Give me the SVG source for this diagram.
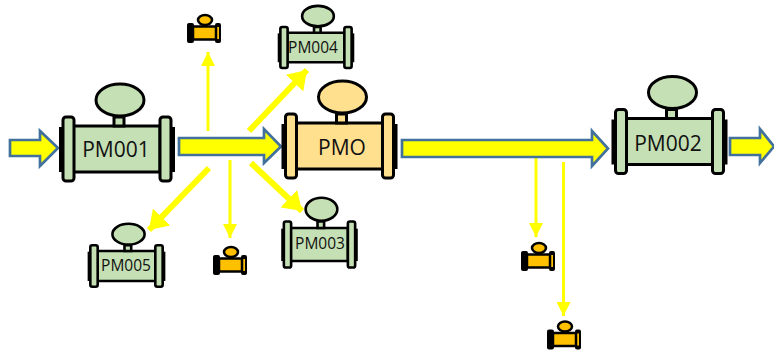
<svg xmlns="http://www.w3.org/2000/svg" xmlns:xlink="http://www.w3.org/1999/xlink" width="774" height="353" viewBox="0 0 774 353">
<style>
text{font-family:"Open Sans","Liberation Sans",sans-serif;fill:#111;text-anchor:middle;dominant-baseline:central}
.big{font-size:21px}.small{font-size:15.500px}
.green{fill:#C5E0B4}.peach{fill:#FFE08F}
.block{fill:#FFFF00;stroke:#41719C;stroke-width:2.700}
.thin{stroke:#FFFF00;stroke-width:3;fill:none;marker-end:url(#hThin)}
.thick{stroke:#FFFF00;stroke-width:6;fill:none;marker-end:url(#hThick)}
#meter .part,#valve .part{stroke:#000;vector-effect:non-scaling-stroke}
</style>
<defs>
<marker id="hThin" markerUnits="userSpaceOnUse" markerWidth="15" markerHeight="14" refX="14" refY="7" orient="auto"><path d="M0 0L14 7L0 14Z" fill="#FFFF00"/></marker>
<marker id="hThick" markerUnits="userSpaceOnUse" markerWidth="19" markerHeight="24" refX="18" refY="12" orient="auto"><path d="M0 0L18 12L0 24Z" fill="#FFFF00"/></marker>
<g id="meter">
<rect x="-58" y="-22" width="116" height="45" fill="#000"/>
<rect class="part" x="-44" y="-23" width="87" height="46"/>
<rect class="part" x="-3" y="-32" width="10" height="9"/>
<ellipse class="part" cx="3" cy="-49" rx="24" ry="16"/>
<rect class="part" x="-54" y="-32" width="11" height="64" rx="3"/>
<rect class="part" x="43" y="-32" width="11" height="64" rx="3"/>
</g>
<g id="valve" fill="#FFC000">
<rect x="-17" y="-10" width="7" height="20" rx="2" fill="#000"/>
<rect x="11" y="-10" width="6" height="20" rx="2" fill="#000"/>
<rect x="13" y="-6" width="2" height="12" fill="#FFC000"/>
<rect class="part" x="-2" y="-10" width="5" height="5" stroke-width="1"/>
<rect class="part" x="-11" y="-6.500" width="23" height="13" stroke-width="2.500"/>
<ellipse class="part" cx="1" cy="-13" rx="7" ry="5" stroke-width="2.500"/>
</g>
</defs>
<g id="connectors">
<path class="thin" d="M208 131V52"/>
<path class="thin" d="M230 160V238"/>
<path class="thin" d="M536 158V237"/>
<path class="thin" d="M563.500 162V316"/>
<path class="thick" d="M249 131L307 70"/>
<path class="thick" d="M251 163L302 211"/>
<path class="thick" d="M209 168L149 230"/>
<path class="block" d="M10 140H40V131L58 148L40 166V156H10Z"/>
<path class="block" d="M179 138H264V129L281 146.500L264 163V155H179Z"/>
<path class="block" d="M402 140H592V131L608 148.500L592 166V157H402Z"/>
<path class="block" d="M730 138H760V129L774 146.500L760 163V155H730Z"/>
</g>
<g id="PM001"><use xlink:href="#meter" href="#meter" class="green" stroke-width="3" transform="translate(117 149)"/><text class="big" x="116" y="149">PM001</text></g>
<g id="PMO"><use xlink:href="#meter" href="#meter" class="peach" stroke-width="3" transform="translate(339.500 146)"/><text class="big" x="342" y="147">PMO</text></g>
<g id="PM002"><use xlink:href="#meter" href="#meter" class="green" stroke-width="3" transform="translate(669.500 141.500)"/><text class="big" x="668" y="143">PM002</text></g>
<g id="PM003"><use xlink:href="#meter" href="#meter" class="green" stroke-width="2.600" transform="translate(319.500 244.500) scale(.66 .72)"/><text class="small" x="320" y="243">PM003</text></g>
<g id="PM004"><use xlink:href="#meter" href="#meter" class="green" stroke-width="2.600" transform="translate(316 47.500) scale(.66 .64)"/><text class="small" x="313" y="47">PM004</text></g>
<g id="PM005"><use xlink:href="#meter" href="#meter" class="green" stroke-width="2.600" transform="translate(126.500 266) scale(.67 .65)"/><text class="small" x="126" y="265">PM005</text></g>
<g id="valve1"><use xlink:href="#valve" href="#valve" transform="translate(204 33)"/></g>
<g id="valve2"><use xlink:href="#valve" href="#valve" transform="translate(230 265)"/></g>
<g id="valve3"><use xlink:href="#valve" href="#valve" transform="translate(538 261)"/></g>
<g id="valve4"><use xlink:href="#valve" href="#valve" transform="translate(564 339.500)"/></g>
</svg>
